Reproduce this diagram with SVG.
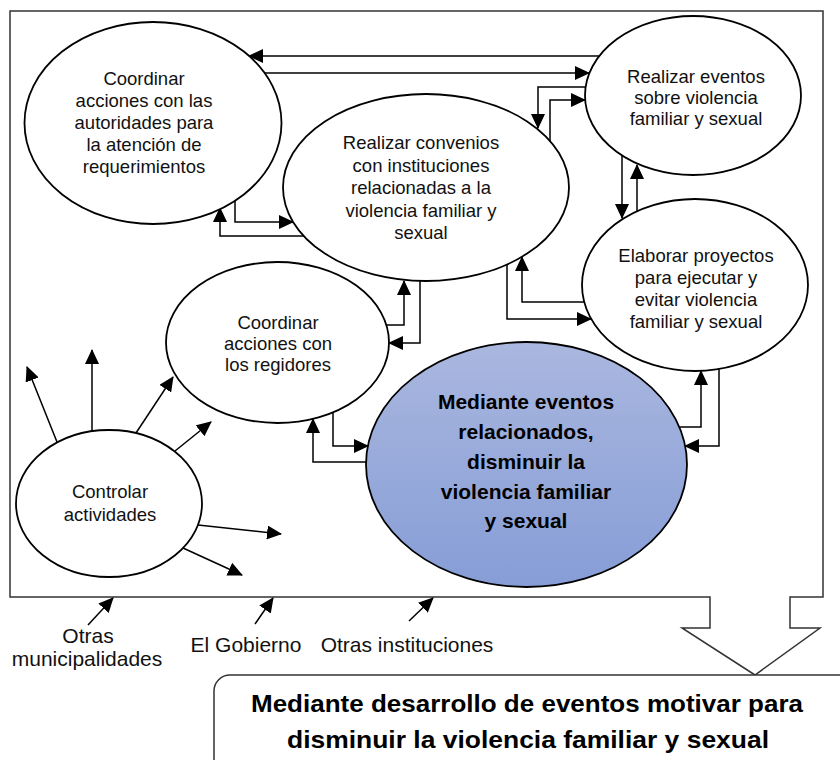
<svg xmlns="http://www.w3.org/2000/svg" width="840" height="760" viewBox="0 0 840 760">
<style>
.frame{fill:none;stroke:#333;stroke-width:1.5}
.node ellipse{fill:#fff;stroke:#000;stroke-width:1.8}
.node text{font-family:"Liberation Sans",Arial,sans-serif;font-size:18.5px;fill:#111;text-anchor:middle}
.conn path{fill:none;stroke:#000;stroke-width:1.5;marker-end:url(#ah)}
.lbl{font-family:"Liberation Sans",Arial,sans-serif;font-size:21px;fill:#111;text-anchor:middle}
.big{font-family:"Liberation Sans",Arial,sans-serif;font-size:24px;font-weight:bold;fill:#000;text-anchor:middle}
</style>
<defs>
<marker id="ah" markerUnits="userSpaceOnUse" markerWidth="15" markerHeight="14" refX="14" refY="7" orient="auto">
<path d="M0,0 L15,7 L0,14 Z" fill="#000"/>
</marker>
<linearGradient id="blue" x1="0" y1="0" x2="0" y2="1">
<stop offset="0" stop-color="#AAB7DF"/>
<stop offset="1" stop-color="#869DD6"/>
</linearGradient>
</defs>
<rect width="840" height="760" fill="#fff"/>
<g id="frame">
<path class="frame" d="M10,11 H823 V597 H790 V628 H820 L755,675 L682,628 H710 V597 H10 Z"/>
</g>
<g id="result">
<rect x="214" y="675" width="660" height="110" rx="16" fill="#fff" stroke="#333" stroke-width="1.5"/>
<text class="big" x="527" y="712" textLength="552" lengthAdjust="spacingAndGlyphs">Mediante desarrollo de eventos motivar para</text>
<text class="big" x="528" y="748" textLength="482" lengthAdjust="spacingAndGlyphs">disminuir la violencia familiar y sexual</text>
</g>
<g id="connectors" class="conn">
<path d="M599,56 H249"/>
<path d="M264,73 H589"/>
<path d="M586,87 H538 V128"/>
<path d="M550,141 V100 H585"/>
<path d="M235,200 V222 H293"/>
<path d="M304,236 H220 V208"/>
<path d="M622,156 V218"/>
<path d="M637,211 V165"/>
<path d="M584,302 H522 V257"/>
<path d="M507,265 V319 H591"/>
<path d="M386,325 H404 V281"/>
<path d="M420,281 V343 H389"/>
<path d="M333,412 V446 H368"/>
<path d="M366,462 H313 V419"/>
<path d="M679,427 H701 V371"/>
<path d="M719,369 V446 H685"/>
<path d="M57,442 L27,367"/>
<path d="M92,431 V350"/>
<path d="M136,433 L173,377"/>
<path d="M175,451 L211,422"/>
<path d="M198,525 L281,534"/>
<path d="M183,548 L242,575"/>
<path d="M88,625 L113,598"/>
<path d="M255,624 L273,598"/>
<path d="M409,621 L433,598"/>
</g>
<g id="n1" class="node">
<ellipse cx="153" cy="123" rx="128.5" ry="101"/>
<text x="144" y="85">Coordinar</text>
<text x="144" y="107">acciones con las</text>
<text x="144" y="129">autoridades para</text>
<text x="144" y="151">la atención de</text>
<text x="144" y="173">requerimientos</text>
</g>
<g id="n2" class="node">
<ellipse cx="426" cy="187.5" rx="143" ry="93.5"/>
<text x="421" y="149">Realizar convenios</text>
<text x="421" y="171.5">con instituciones</text>
<text x="421" y="194">relacionadas a la</text>
<text x="421" y="216.5">violencia familiar y</text>
<text x="421" y="239">sexual</text>
</g>
<g id="n3" class="node">
<ellipse cx="693" cy="95.5" rx="108" ry="79.5"/>
<text x="696" y="83">Realizar eventos</text>
<text x="696" y="104">sobre violencia</text>
<text x="696" y="125">familiar y sexual</text>
</g>
<g id="n4" class="node">
<ellipse cx="695" cy="285" rx="113" ry="86"/>
<text x="696" y="262">Elaborar proyectos</text>
<text x="696" y="284">para ejecutar y</text>
<text x="696" y="306">evitar violencia</text>
<text x="696" y="328">familiar y sexual</text>
</g>
<g id="n5" class="node">
<ellipse cx="277.5" cy="342.5" rx="111.5" ry="80.5"/>
<text x="278" y="329">Coordinar</text>
<text x="278" y="350">acciones con</text>
<text x="278" y="371">los regidores</text>
</g>
<g id="n6" class="node">
<ellipse cx="109" cy="503.5" rx="93" ry="73.5"/>
<text x="110" y="498">Controlar</text>
<text x="110" y="521">actividades</text>
</g>
<g id="n7" class="node">
<ellipse cx="526.5" cy="464.5" rx="160.5" ry="122.5" style="fill:url(#blue)"/>
<text x="526" y="409" style="font-weight:bold;font-size:21px;fill:#000">Mediante eventos</text>
<text x="526" y="439" style="font-weight:bold;font-size:21px;fill:#000">relacionados,</text>
<text x="526" y="469" style="font-weight:bold;font-size:21px;fill:#000">disminuir la</text>
<text x="526" y="498.5" style="font-weight:bold;font-size:21px;fill:#000">violencia familiar</text>
<text x="526" y="528" style="font-weight:bold;font-size:21px;fill:#000">y sexual</text>
</g>
<g id="labels">
<text class="lbl" x="88" y="643">Otras</text>
<text class="lbl" x="87" y="666">municipalidades</text>
<text class="lbl" x="246" y="652">El Gobierno</text>
<text class="lbl" x="407" y="652">Otras instituciones</text>
</g>
</svg>
